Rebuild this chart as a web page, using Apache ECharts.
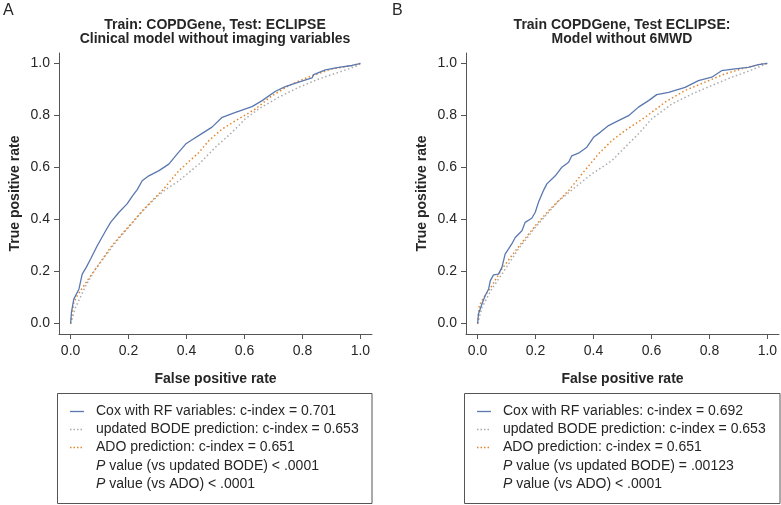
<!DOCTYPE html>
<html>
<head>
<meta charset="utf-8">
<script src="https://cdn.jsdelivr.net/npm/echarts@6/dist/echarts.min.js"></script>
<style>
html,body{margin:0;padding:0;background:#fff;}
#c{width:781px;height:505px;}
</style>
</head>
<body>
<div id="c"></div>
<script>
// ---- data ----
const tickValues = [0, 0.2, 0.4, 0.6, 0.8, 1.0];

const namesA = ['Cox with RF variables: c-index = 0.701', 'updated BODE prediction: c-index = 0.653', 'ADO prediction: c-index = 0.651'];
const namesB = ['Cox with RF variables: c-index = 0.692', 'updated BODE prediction: c-index = 0.653', 'ADO prediction: c-index = 0.651'];
const pLinesA = ['value (vs updated BODE) < .0001', 'value (vs ADO) < .0001'];
const pLinesB = ['value (vs updated BODE) = .00123', 'value (vs ADO) < .0001'];

// Panel A: [fpr, tpr]
const coxA = [[0,0],[0.003,0.043],[0.011,0.094],[0.029,0.133],[0.040,0.19],[0.054,0.216],[0.069,0.248],[0.092,0.299],[0.121,0.357],[0.138,0.389],[0.167,0.428],[0.195,0.46],[0.213,0.49],[0.23,0.515],[0.247,0.549],[0.27,0.568],[0.305,0.588],[0.339,0.613],[0.368,0.652],[0.397,0.69],[0.414,0.703],[0.454,0.731],[0.488,0.755],[0.523,0.793],[0.569,0.812],[0.626,0.834],[0.661,0.857],[0.707,0.893],[0.741,0.911],[0.787,0.928],[0.833,0.944],[0.839,0.957],[0.879,0.975],[0.925,0.985],[0.971,0.992],[0.994,0.998],[1,1]];
const bodeA = [[0,0],[0.017,0.062],[0.052,0.145],[0.086,0.21],[0.155,0.312],[0.2,0.37],[0.25,0.435],[0.3,0.49],[0.328,0.515],[0.374,0.549],[0.443,0.613],[0.5,0.678],[0.557,0.735],[0.603,0.787],[0.649,0.825],[0.718,0.87],[0.787,0.908],[0.856,0.94],[0.925,0.966],[0.983,0.988],[1,1]];
const adoA = [[0,0],[0.011,0.082],[0.023,0.107],[0.061,0.171],[0.094,0.222],[0.138,0.293],[0.172,0.338],[0.213,0.389],[0.253,0.44],[0.287,0.479],[0.316,0.511],[0.374,0.588],[0.443,0.658],[0.477,0.703],[0.523,0.748],[0.58,0.787],[0.638,0.825],[0.695,0.876],[0.764,0.921],[0.833,0.953],[0.902,0.979],[0.971,0.992],[1,1]];

// Panel B: [fpr, tpr]
const coxB = [[0,0],[0.003,0.037],[0.015,0.075],[0.026,0.107],[0.038,0.133],[0.044,0.165],[0.055,0.187],[0.072,0.19],[0.084,0.216],[0.095,0.267],[0.118,0.306],[0.13,0.331],[0.153,0.357],[0.164,0.389],[0.187,0.405],[0.199,0.428],[0.21,0.466],[0.228,0.513],[0.239,0.537],[0.268,0.568],[0.291,0.601],[0.314,0.62],[0.325,0.645],[0.348,0.655],[0.377,0.678],[0.4,0.716],[0.423,0.735],[0.452,0.761],[0.486,0.78],[0.521,0.799],[0.555,0.832],[0.59,0.857],[0.618,0.88],[0.659,0.889],[0.716,0.908],[0.762,0.934],[0.808,0.947],[0.842,0.972],[0.888,0.979],[0.934,0.985],[0.969,0.995],[1,1]];
const bodeB = [[0,0],[0.015,0.062],[0.049,0.133],[0.084,0.19],[0.141,0.287],[0.199,0.37],[0.28,0.472],[0.337,0.524],[0.394,0.575],[0.463,0.626],[0.509,0.678],[0.555,0.729],[0.601,0.787],[0.67,0.844],[0.739,0.882],[0.808,0.915],[0.877,0.947],[0.946,0.975],[1,1]];
const adoB = [[0,0],[0.006,0.069],[0.021,0.1],[0.049,0.145],[0.084,0.21],[0.113,0.254],[0.153,0.312],[0.199,0.376],[0.245,0.434],[0.291,0.485],[0.314,0.511],[0.36,0.575],[0.417,0.652],[0.463,0.703],[0.509,0.742],[0.578,0.793],[0.647,0.851],[0.716,0.896],[0.785,0.928],[0.854,0.96],[0.923,0.983],[0.98,0.998],[1,1]];

// ---- chart ----
const FONT = '"Liberation Sans", Arial, Helvetica, sans-serif';
const TXT = '#262626';
const AX = '#555';
const BLUE = '#5a78b0', GREY = '#ababab', ORANGE = '#e5842a';
const seriesColors = [BLUE, GREY, ORANGE];

function xAxisDef(gi) {
  return {
    type: 'value', gridIndex: gi, min: -0.04, max: 1.04,
    name: 'False positive rate', nameLocation: 'middle', nameGap: 38,
    nameTextStyle: {fontFamily: FONT, fontSize: 14, fontWeight: 'bold', color: TXT},
    axisLine: {show: true, onZero: false, lineStyle: {color: AX, width: 1}},
    axisTick: {show: true, length: 5, customValues: tickValues, lineStyle: {color: AX}},
    axisLabel: {customValues: tickValues, margin: 10, fontFamily: FONT, fontSize: 14, color: TXT,
      formatter: v => v.toFixed(1)},
    splitLine: {show: false}
  };
}
function yAxisDef(gi) {
  return {
    type: 'value', gridIndex: gi, min: -0.04, max: 1.04,
    name: 'True positive rate', nameLocation: 'middle', nameGap: 37,
    nameTextStyle: {fontFamily: FONT, fontSize: 14, fontWeight: 'bold', color: TXT},
    axisLine: {show: true, onZero: false, lineStyle: {color: AX, width: 1}},
    axisTick: {show: true, length: 5, customValues: tickValues, lineStyle: {color: AX}},
    axisLabel: {customValues: tickValues, margin: 9, fontFamily: FONT, fontSize: 14, color: TXT,
      formatter: v => v.toFixed(1)},
    splitLine: {show: false}
  };
}
function seriesDefs(gi, names, cox, bode, ado) {
  return [
    {name: names[0], type: 'line', xAxisIndex: gi, yAxisIndex: gi, data: cox, symbol: 'none', z: 3,
      lineStyle: {color: BLUE, width: 1.3}, itemStyle: {color: BLUE}},
    {name: names[1], type: 'line', xAxisIndex: gi, yAxisIndex: gi, data: bode, symbol: 'none', z: 2,
      lineStyle: {color: GREY, width: 1.5, type: [1.5, 2.5]}, itemStyle: {color: GREY}},
    {name: names[2], type: 'line', xAxisIndex: gi, yAxisIndex: gi, data: ado, symbol: 'none', z: 2,
      lineStyle: {color: ORANGE, width: 1.5, type: [1.5, 2.5]}, itemStyle: {color: ORANGE}}
  ];
}
const ROWS = [411.5, 429.5, 447.5, 466, 484];
function legendBox(x0, names, pLines) {
  const els = [];
  names.forEach((n, i) => {
    els.push({type: 'line', shape: {x1: x0, y1: ROWS[i], x2: x0 + 14, y2: ROWS[i]},
      style: {stroke: seriesColors[i], lineWidth: i === 0 ? 1.3 : 1.5, lineDash: i === 0 ? null : [1.5, 2]}});
    els.push({type: 'text', x: x0 + 26, y: ROWS[i], style: {text: n, fill: TXT, font: '14px ' + FONT, verticalAlign: 'middle'}});
  });
  pLines.forEach((s, j) => {
    els.push({type: 'text', x: x0 + 26, y: ROWS[3 + j], style: {
      text: '{i|P} ' + s, fill: TXT, font: '14px ' + FONT, verticalAlign: 'middle',
      rich: {i: {fontStyle: 'italic', fontFamily: FONT, fontSize: 14, fill: TXT}}}});
  });
  return els;
}
function titleText(x, y, s) {
  return {type: 'text', x: x, y: y, style: {text: s, fill: TXT, font: 'bold 14px ' + FONT, align: 'center', verticalAlign: 'middle'}};
}

const chart = echarts.init(document.getElementById('c'), null, {renderer: 'canvas'});
chart.setOption({
  animation: false,
  backgroundColor: '#fff',
  grid: [
    {left: 59, top: 53, width: 313, height: 281},
    {left: 466, top: 53, width: 313, height: 281}
  ],
  xAxis: [xAxisDef(0), xAxisDef(1)],
  yAxis: [yAxisDef(0), yAxisDef(1)],
  series: [].concat(seriesDefs(0, namesA, coxA, bodeA, adoA), seriesDefs(1, namesB, coxB, bodeB, adoB)),
  graphic: [
    {type: 'text', x: 3, y: 3, style: {text: 'A', fill: TXT, font: '16px ' + FONT}},
    {type: 'text', x: 392, y: 3, style: {text: 'B', fill: TXT, font: '16px ' + FONT}},
    titleText(215, 25.5, 'Train: COPDGene, Test: ECLIPSE'),
    titleText(215, 39.5, 'Clinical model without imaging variables'),
    titleText(622, 25.5, 'Train COPDGene, Test ECLIPSE:'),
    titleText(622, 39.5, 'Model without 6MWD'),
    {type: 'rect', shape: {x: 57.5, y: 393.5, width: 314.5, height: 110}, style: {fill: 'none', stroke: AX, lineWidth: 1}},
    {type: 'rect', shape: {x: 464.5, y: 393.5, width: 315.5, height: 110}, style: {fill: 'none', stroke: AX, lineWidth: 1}}
  ].concat(legendBox(70, namesA, pLinesA), legendBox(477, namesB, pLinesB))
});
</script>
</body>
</html>
